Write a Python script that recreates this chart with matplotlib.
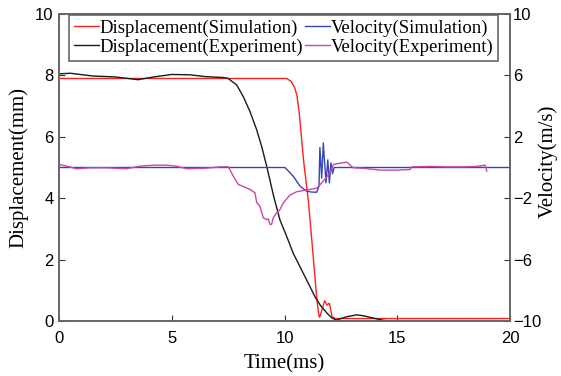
import matplotlib
matplotlib.use("Agg")
import matplotlib.pyplot as plt

# displacement, simulation (mm)
t_ds = [0, 10.1, 10.3, 10.45, 10.55, 10.65, 10.75, 10.85, 11.06, 11.25, 11.43, 11.52,
        11.56, 11.66, 11.78, 11.89, 11.99, 12.11, 12.25, 20]
d_ds = [7.9, 7.9, 7.8, 7.6, 7.35, 6.8, 6.0, 5.2, 3.9, 2.3, 0.74, 0.2,
        0.12, 0.36, 0.66, 0.52, 0.58, 0.14, 0.08, 0.08]

# displacement, experiment (mm)
t_de = [0, 0.5, 1.5, 2.5, 3.5, 4.2, 5.0, 5.8, 6.5, 7.3, 7.5, 7.88, 8.17, 8.47, 8.77,
        8.99, 9.24, 9.52, 9.8, 10.1, 10.39, 10.76, 11.13, 11.35, 11.6, 11.89, 12.1,
        12.3, 12.5, 12.77, 13.2, 13.5, 13.8, 14.2, 14.55, 14.7]
d_de = [8.05, 8.07, 7.98, 7.95, 7.86, 7.95, 8.03, 8.02, 7.96, 7.93, 7.9, 7.69, 7.31,
        6.82, 6.22, 5.68, 4.95, 4.06, 3.29, 2.75, 2.2, 1.66, 1.12, 0.79, 0.5, 0.25,
        0.1, 0.03, 0.08, 0.14, 0.2, 0.17, 0.12, 0.05, 0.0, -0.05]

# velocity, simulation (m/s)
t_vs = [0, 10.02, 10.39, 10.69, 10.98, 11.2, 11.43, 11.53, 11.57, 11.65, 11.72,
        11.84, 11.92, 11.99, 12.06, 12.13, 12.2, 20]
v_vs = [0, 0, -0.57, -1.22, -1.54, -1.6, -1.61, -1.22, 1.3, -0.7, 1.6,
        -1.0, 0.5, -1.0, 0.3, -0.4, 0, 0]

# velocity, experiment (m/s)
t_ve = [0, 0.3, 0.78, 1.38, 2.12, 3.0, 3.59, 4.18, 4.78, 5.2, 5.66, 6.55, 7.14, 7.51,
        7.73, 7.95, 8.47, 8.69, 8.77, 8.91, 9.06, 9.21, 9.28, 9.36, 9.43, 9.5, 9.65,
        9.8, 9.95, 10.24, 10.54, 10.69, 11.43, 11.65, 12.02, 12.17, 12.39, 12.76,
        13.05, 13.5, 14.24, 14.97, 15.57, 15.64, 16.45, 17.19, 17.93, 18.5, 18.9, 18.97]
v_ve = [0.2, 0.1, -0.08, -0.02, -0.02, -0.08, 0.09, 0.15, 0.15, 0.09, -0.08, -0.04,
        0.04, 0.05, -0.57, -1.1, -1.43, -1.65, -2.3, -2.52, -3.28, -3.4, -3.35, -3.71,
        -3.7, -3.28, -2.95, -2.74, -2.3, -1.8, -1.58, -1.54, -1.35, -1.0, -0.35, 0.2,
        0.26, 0.35, -0.02, -0.05, -0.17, -0.17, -0.13, 0.04, 0.07, 0.04, 0.04, 0.07,
        0.15, -0.24]

x_ticks = [0, 5, 10, 15, 20]
d_ticks = [0, 2, 4, 6, 8, 10]
v_ticks = [-10, -6, -2, 2, 6, 10]

serif = "Liberation Serif"
sans = "Liberation Sans"
frame = "#666666"

fig = plt.figure(figsize=(5.61, 3.76), dpi=100)
ax = fig.add_axes([59 / 561, 1 - 321 / 376, 451 / 561, 307 / 376])
ax2 = ax.twinx()

l1, = ax.plot(t_ds, d_ds, color="#ff2020", lw=1.0)
l2, = ax.plot(t_de, d_de, color="#1a1a1a", lw=1.0)
l3, = ax2.plot(t_vs, v_vs, color="#3545b5", lw=1.0)
l4, = ax2.plot(t_ve, v_ve, color="#cc44aa", lw=1.0)

ax.set_xlim(0, 20)
ax.set_ylim(0, 10)
ax2.set_ylim(-10, 10)
ax.set_xticks(x_ticks)
ax.set_yticks(d_ticks)
ax2.set_yticks(v_ticks)

for a in (ax, ax2):
    for s in a.spines.values():
        s.set_color(frame)
        s.set_linewidth(1.2)
ax.tick_params(direction="in", top=True, right=False, length=4, color="#333333",
               labelsize=12)
ax.tick_params(axis="x", pad=7)
ax.tick_params(axis="y", pad=4)
ax2.tick_params(direction="in", length=4, color="#333333", labelsize=12, pad=2)
for lab in ax.get_xticklabels() + ax.get_yticklabels() + ax2.get_yticklabels():
    lab.set_fontfamily(sans)

ax.set_xlabel("Time(ms)", fontfamily=serif, fontsize=15, labelpad=6)
ax.set_ylabel("Displacement(mm)", fontfamily=serif, fontsize=15)
ax2.set_ylabel("Velocity(m/s)", fontfamily=serif, fontsize=15)
ax.yaxis.set_label_coords(-0.068, 0.5)
ax2.yaxis.set_label_coords(1.062, 0.52)

leg = ax2.legend([l1, l2, l3, l4],
                 ["Displacement(Simulation)", "Displacement(Experiment)",
                  "Velocity(Simulation)", "Velocity(Experiment)"],
                 ncol=2, loc="upper center", bbox_to_anchor=(0.498, 0.997),
                 prop={"family": serif, "size": 13.5}, handlelength=1.35,
                 handletextpad=0.05, columnspacing=0.05, labelspacing=0.1,
                 borderpad=0.25, borderaxespad=0, fancybox=False, framealpha=1)
leg.get_frame().set_edgecolor(frame)
leg.get_frame().set_linewidth(1.2)

fig.savefig("out.png", dpi=100)
